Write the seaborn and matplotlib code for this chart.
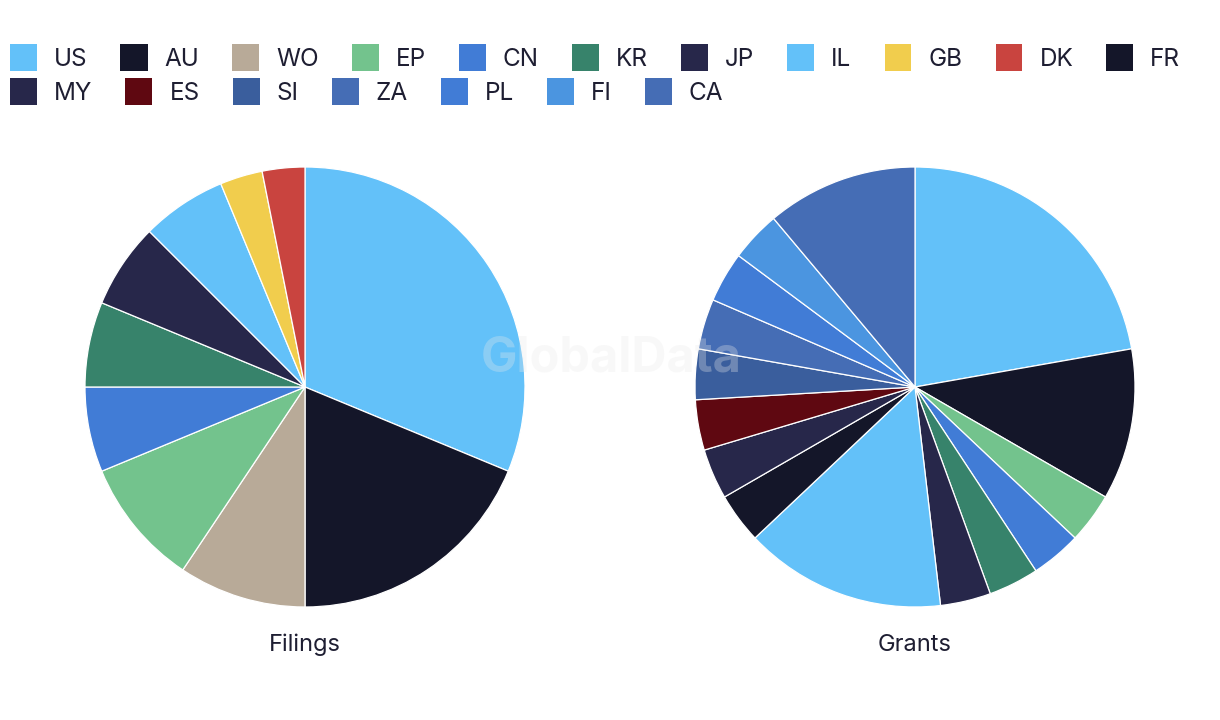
import matplotlib
matplotlib.use("Agg")
import matplotlib.pyplot as plt
import seaborn as sns
from matplotlib.patches import Rectangle

categories = ['US', 'AU', 'WO', 'EP', 'CN', 'KR', 'JP', 'IL', 'GB', 'DK',
              'FR', 'MY', 'ES', 'SI', 'ZA', 'PL', 'FI', 'CA']
filings = [10, 6, 3, 3, 2, 2, 2, 2, 1, 1, 0, 0, 0, 0, 0, 0, 0, 0]
grants = [6, 3, 0, 1, 1, 1, 1, 4, 0, 0, 1, 1, 1, 1, 1, 1, 1, 3]
panel_titles = ['Filings', 'Grants']
colors = ['#63C1F9', '#141629', '#B8AA98', '#73C38D', '#417CD6', '#37836B',
          '#27274A', '#63C1F9', '#F1CD4D', '#C9443F', '#141629', '#27274A',
          '#5F0811', '#3A5E9D', '#456DB5', '#417CD6', '#4B95E0', '#456DB5']

sns.set_theme(style="white")
plt.rcParams['font.family'] = ['Inter', 'DejaVu Sans']
palette = sns.color_palette(colors)
text_color = '#1E1E32'

W, H = 1220, 720
fig = plt.figure(figsize=(W / 100, H / 100), dpi=100)
fig.patch.set_facecolor('white')

centers = [(305, 387), (915, 387)]
R = 220
for (cx, cy), vals, title in zip(centers, [filings, grants], panel_titles):
    ax = fig.add_axes([(cx - R) / W, (H - cy - R) / H, 2 * R / W, 2 * R / H])
    v = [x for x in vals if x > 0]
    c = [palette[i] for i, x in enumerate(vals) if x > 0]
    ax.pie(v, colors=c, startangle=90, counterclock=False, radius=1,
           wedgeprops=dict(edgecolor='white', linewidth=0.9))
    ax.set_xlim(-1, 1)
    ax.set_ylim(-1, 1)
    ax.set_aspect('equal')
    ax.axis('off')
    fig.text(cx / W, 1 - 645 / H, title, ha='center', va='center',
             fontsize=17, color=text_color)

# watermark
fig.text(611 / W, 1 - 359 / H, 'GlobalData', ha='center', va='center',
         fontsize=35, fontweight='bold', color='#EAEAEA', alpha=0.3, zorder=10)

# legend, flow layout
renderer = fig.canvas.get_renderer()
x = 10
row_y = [57, 91]
row = 0
sq = 27
for name, col in zip(categories, palette):
    t = fig.text(0, 0, name, fontsize=17.5, color=text_color, va='center', ha='left')
    tw = t.get_window_extent(renderer).width
    if x + 44 + tw > W - 10:
        row += 1
        x = 10
    yc = row_y[row]
    fig.patches.append(Rectangle((x / W, (H - yc - sq / 2) / H), sq / W, sq / H,
                                 transform=fig.transFigure, facecolor=col,
                                 edgecolor='none'))
    t.set_position(((x + 44) / W, 1 - (yc + 2.5) / H))
    x = x + 44 + tw + 33

fig.savefig('out.png', dpi=100, facecolor='white')
